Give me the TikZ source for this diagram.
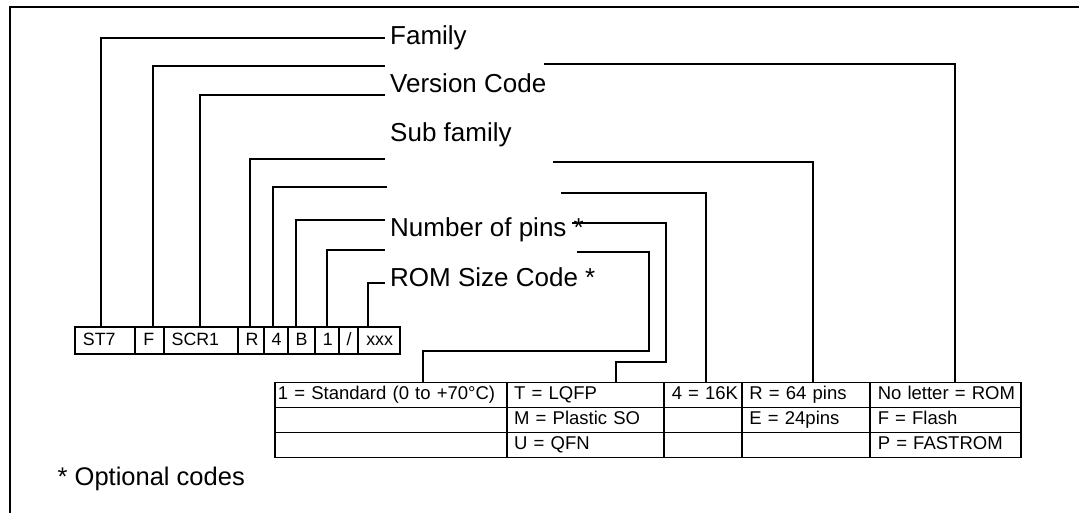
\documentclass[tikz,border=0pt]{standalone}
\usepackage{fontspec}
\setmainfont{Liberation Sans}
\newcommand\labfont{\fontsize{26}{30}\selectfont}
\newcommand\codefont{\fontsize{17.8}{20}\selectfont}
\newcommand\tabfont{\fontsize{18.5}{21}\selectfont}
\newcommand\notefont{\fontsize{25.5}{29}\selectfont}
\begin{document}
\begin{tikzpicture}[x=1pt,y=-1pt,
  lead/.style={line width=2pt},
  frameline/.style={line width=2pt},
  codebox/.style={draw, line width=1.9pt, inner xsep=8pt, inner ysep=0pt,
    minimum height=26.7pt, text height=12.7pt, text depth=3.1pt,
    align=left, font=\codefont, anchor=north west},
  cell/.style={draw, line width=1.9pt, inner xsep=7.5pt, inner ysep=0pt,
    minimum height=25pt, text height=12.5pt, text depth=3.5pt,
    align=left, font=\tabfont, anchor=north west},
  lab/.style={anchor=base west, inner sep=0pt, font=\labfont},
  note/.style={anchor=base west, inner sep=0pt, font=\notefont}]

\useasboundingbox (0,0) rectangle (1079,513);

% frame (cropped)
\draw[frameline] (10,520) -- (10,7.3) -- (1085,7.3);

% code boxes
\node[codebox, text width=44.3pt] (st7) at (74,326) {ST7};
\node[codebox, text width=12.4pt] (cf)  at (134.3,326) {F};
\node[codebox, text width=58pt]   (scr) at (162.7,326) {SCR1};
\node[codebox, text width=10pt]   (cr)  at (236.7,326) {R};
\node[codebox, text width=8pt]    (c4)  at (262.7,326) {4};
\node[codebox, text width=11.3pt] (cb)  at (286.7,326) {B};
\node[codebox, text width=7.7pt]  (c1)  at (314,326) {1};
\node[codebox, text width=3.6pt]  (cs)  at (337.7,326) {/};
\node[codebox, text width=25.7pt] (cx)  at (357.3,326) {xxx};

% labels
\node[lab] (lfam) at (390,44.5)  {Family};
\node[lab] (lver) at (390,92.5)  {Version Code};
\node[lab] (lsub) at (390,141.5) {Sub family};
\node[lab] (lnum) at (390,236.5) {Number of pins *};
\node[lab] (lrom) at (390,286.5) {ROM Size Code *};

% table
\node[cell, inner xsep=3pt, text width=225.7pt] (t11) at (274,381.5) {\mbox{1 = Standard (0 to +70°C)}};
\node[cell, text width=142.6pt] (t12) at (505.7,381.5) {\mbox{T = LQFP}};
\node[cell, text width=62.7pt]  (t13) at (663.3,381.5) {\mbox{4 = 16K}};
\node[cell, text width=113.3pt] (t14) at (741,381.5)   {\mbox{R = 64 pins}};
\node[cell, text width=135.7pt] (t15) at (869.3,381.5) {\mbox{No letter = ROM}};

\node[cell, inner xsep=3pt, text width=225.7pt] (t21) at (274,406.5) {};
\node[cell, text width=142.6pt] (t22) at (505.7,406.5) {\mbox{M = Plastic SO}};
\node[cell, text width=62.7pt]  (t23) at (663.3,406.5) {};
\node[cell, text width=113.3pt] (t24) at (741,406.5)   {\mbox{E = 24pins}};
\node[cell, text width=135.7pt] (t25) at (869.3,406.5) {\mbox{F = Flash}};

\node[cell, inner xsep=3pt, text width=225.7pt] (t31) at (274,431.5) {};
\node[cell, text width=142.6pt] (t32) at (505.7,431.5) {\mbox{U = QFN}};
\node[cell, text width=62.7pt]  (t33) at (663.3,431.5) {};
\node[cell, text width=113.3pt] (t34) at (741,431.5)   {};
\node[cell, text width=135.7pt] (t35) at (869.3,431.5) {\mbox{P = FASTROM}};

% note
\node[note] (opt) at (57.5,485) {* Optional codes};

% leader end points
\coordinate (eFam)  at (385,38);
\coordinate (eVerA) at (385,66);
\coordinate (eVerB) at (385,95);
\coordinate (eSubA) at (385,159);
\coordinate (eSubB) at (387,187.3);
\coordinate (eNum)  at (385,220);
\coordinate (eRomA) at (385,250);
\coordinate (eRomB) at (385,282.7);
\coordinate (sVer)  at (544.3,64.3);
\coordinate (sSub)  at (553.3,161.7);
\coordinate (sSubB) at (561,193.3);
\coordinate (sNum)  at (571.7,222.7);
\coordinate (kNum)  at (666,362.3);
\coordinate (sRom)  at (576.7,252.3);
\coordinate (kRom)  at (648.5,350.7);

% left leaders
\draw[lead] ([xshift=-4.15pt]st7.north) |- (eFam);
\draw[lead] ([xshift=3.5pt]cf.north) |- (eVerA);
\draw[lead] ([xshift=-0.7pt]scr.north) |- (eVerB);
\draw[lead] ([xshift=-0.7pt]cr.north) |- (eSubA);
\draw[lead] ([xshift=-3pt]c4.north) |- (eSubB);
\draw[lead] ([xshift=-5.35pt]cb.north) |- (eNum);
\draw[lead] (c1.north) |- (eRomA);
\draw[lead] ([xshift=-11.45pt]cx.north) |- (eRomB);

% right leaders
\draw[lead] (sVer) -| ([xshift=9.35pt]t15.north);
\draw[lead] (sSub) -| ([xshift=7.15pt]t14.north);
\draw[lead] (sSubB) -| ([xshift=2.85pt]t13.north);
\draw[lead] (sNum) -| (kNum) -| ([xshift=30.5pt]t12.north);
\draw[lead] (sRom) -| (kRom) -| ([xshift=32.5pt]t11.north);
\end{tikzpicture}
\end{document}
